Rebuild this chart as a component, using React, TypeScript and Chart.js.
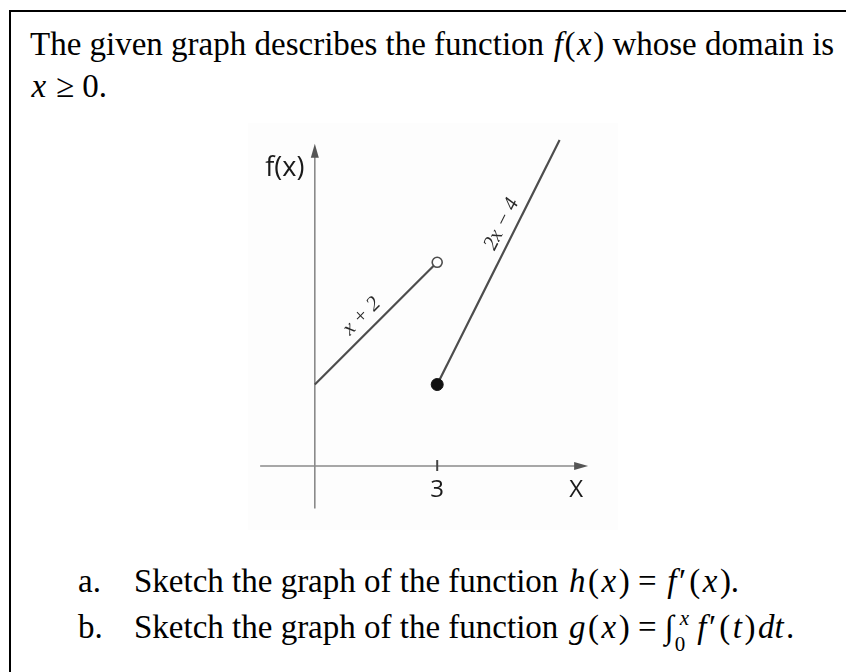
import React, { useEffect, useRef } from "react";
import { Chart, registerables } from "chart.js";

Chart.register(...registerables);

// ---- data ----
const seg1X = [0, 3];
const seg1Y = [2, 5];
const seg2X = [3, 6];
const seg2Y = [2, 8];
const openPointXY = [3, 5];
const closedPointXY = [3, 2];
const xAxisExtent = [-1.34, 6.7];
const yAxisExtent = [-1.04, 7.91];
const xTickValues = [3];
const xTickLabels = ["3"];
const segmentLabels = ["x + 2", "2x \u2212 4"];
const xRange = [-1.466, 7.26];
const yRange = [-1.398, 8.246];

const LINE = "#4d4d4d";
const AXIS = "#8a8a8a";

function GraphChart() {
  const ref = useRef<HTMLCanvasElement | null>(null);
  useEffect(() => {
    if (!ref.current) return;
    const overlay = {
      id: "overlay",
      afterDatasetsDraw(chart: any) {
        const ctx = chart.ctx as CanvasRenderingContext2D;
        const xs = chart.scales.x;
        const ys = chart.scales.y;
        const px = (v: number) => xs.getPixelForValue(v);
        const py = (v: number) => ys.getPixelForValue(v);
        ctx.save();
        // arrowheads
        ctx.fillStyle = "#555";
        const xt = px(xAxisExtent[1]);
        const y0 = py(0);
        ctx.beginPath();
        ctx.moveTo(xt, y0);
        ctx.lineTo(xt - 14, y0 - 4);
        ctx.lineTo(xt - 14, y0 + 4);
        ctx.closePath();
        ctx.fill();
        const x0 = px(0);
        const yt = py(yAxisExtent[1]);
        ctx.beginPath();
        ctx.moveTo(x0, yt);
        ctx.lineTo(x0 - 4, yt + 14);
        ctx.lineTo(x0 + 4, yt + 14);
        ctx.closePath();
        ctx.fill();
        // ticks
        ctx.strokeStyle = "#444";
        ctx.lineWidth = 2;
        ctx.fillStyle = "#1a1a1a";
        ctx.font = "24px 'Open Sans'";
        ctx.textAlign = "center";
        ctx.textBaseline = "middle";
        xTickValues.forEach((v, i) => {
          const tx = px(v);
          ctx.beginPath();
          ctx.moveTo(tx, y0 - 6);
          ctx.lineTo(tx, y0 + 5);
          ctx.stroke();
          ctx.fillText(xTickLabels[i], tx, y0 + 24);
        });
        // axis titles
        ctx.fillText("X", xt - 12, y0 + 24);
        ctx.font = "27px 'Open Sans'";
        ctx.fillText("f(x)", x0 - 30, yt + 25);
        // segment labels
        const segs = [
          { xs: seg1X, ys: seg1Y, f: 0.47, off: 15, text: segmentLabels[0] },
          { xs: seg2X, ys: seg2Y, f: 0.63, off: 14, text: segmentLabels[1] },
        ];
        ctx.font = "italic 21px 'Liberation Serif'";
        ctx.fillStyle = "#2a2a2a";
        segs.forEach((s) => {
          const ax = px(s.xs[0]), ay = py(s.ys[0]);
          const bx = px(s.xs[1]), by = py(s.ys[1]);
          const ang = Math.atan2(by - ay, bx - ax);
          const cx = ax + (bx - ax) * s.f;
          const cy = ay + (by - ay) * s.f;
          ctx.save();
          ctx.translate(cx, cy);
          ctx.rotate(ang);
          ctx.fillText(s.text, 0, -s.off);
          ctx.restore();
        });
        ctx.restore();
      },
    };
    const chart = new Chart(ref.current, {
      type: "scatter",
      data: {
        datasets: [
          {
            data: [{ x: closedPointXY[0], y: closedPointXY[1] }],
            pointRadius: 6,
            pointBackgroundColor: "#111",
            pointBorderColor: "#111",
            showLine: false,
          },
          {
            data: [{ x: openPointXY[0], y: openPointXY[1] }],
            pointRadius: 5,
            pointBorderWidth: 1.6,
            pointBackgroundColor: "#fff",
            pointBorderColor: "#4d4d4d",
            showLine: false,
          },
          {
            data: seg1X.map((x, i) => ({ x, y: seg1Y[i] })),
            showLine: true,
            borderColor: LINE,
            borderWidth: 2.2,
            pointRadius: 0,
          },
          {
            data: seg2X.map((x, i) => ({ x, y: seg2Y[i] })),
            showLine: true,
            borderColor: LINE,
            borderWidth: 2.2,
            pointRadius: 0,
          },
          {
            data: [
              { x: xAxisExtent[0], y: 0 },
              { x: xAxisExtent[1] - 0.25, y: 0 },
            ],
            showLine: true,
            borderColor: AXIS,
            borderWidth: 1.6,
            pointRadius: 0,
          },
          {
            data: [
              { x: 0, y: yAxisExtent[0] },
              { x: 0, y: yAxisExtent[1] - 0.25 },
            ],
            showLine: true,
            borderColor: AXIS,
            borderWidth: 1.6,
            pointRadius: 0,
          },
        ],
      },
      options: {
        animation: false,
        responsive: false,
        maintainAspectRatio: false,
        layout: { padding: 0 },
        plugins: { legend: { display: false }, tooltip: { enabled: false } },
        scales: {
          x: { type: "linear", display: false, min: xRange[0], max: xRange[1] },
          y: { type: "linear", display: false, min: yRange[0], max: yRange[1] },
        },
      },
      plugins: [overlay],
    });
    return () => chart.destroy();
  }, []);
  return <canvas ref={ref} width={370} height={407} style={{ display: "block" }} />;
}

const serif = "'Liberation Serif', 'Times New Roman', serif";
const I = ({ children }: { children: React.ReactNode }) => (
  <span style={{ fontStyle: "italic", padding: "0 1.5px" }}>{children}</span>
);
const M = ({ children }: { children: React.ReactNode }) => (
  <span style={{ fontStyle: "italic", padding: "0 2.5px" }}>{children}</span>
);
const Prime = () => <span style={{ marginRight: 3 }}>′</span>;

export default function App() {
  const line: React.CSSProperties = {
    position: "absolute",
    fontFamily: serif,
    fontSize: 33,
    lineHeight: "36px",
    whiteSpace: "nowrap",
    color: "#000",
  };
  return (
    <div
      style={{
        position: "absolute",
        left: 0,
        top: 0,
        width: 846,
        height: 672,
        background: "#fff",
        overflow: "hidden",
      }}
    >
      <div
        style={{
          position: "absolute",
          left: 9,
          top: 10,
          width: 900,
          height: 700,
          borderTop: "2px solid #000",
          borderLeft: "2px solid #000",
        }}
      />
      <div style={{ ...line, left: 30, top: 25.9 }}>
        The given graph describes the function <I>f</I>(<I>x</I>) whose domain is
      </div>
      <div style={{ ...line, left: 30, top: 67.9 }}>
        <I>x</I> ≥ 0.
      </div>
      <div
        style={{
          position: "absolute",
          left: 248,
          top: 123,
          width: 370,
          height: 407,
          background: "#fdfdfd",
        }}
      >
        <GraphChart />
      </div>
      <div style={{ ...line, left: 78, top: 562.9 }}>
        <span style={{ display: "inline-block", width: 56 }}>a.</span>
        {"Sketch the graph of the function "}
        <M>h</M>(<M>x</M>){" = "}
        <M>f</M>
        <Prime />(<M>x</M>).
      </div>
      <div style={{ ...line, left: 78, top: 608.9 }}>
        <span style={{ display: "inline-block", width: 56 }}>b.</span>
        {"Sketch the graph of the function "}
        <M>g</M>(<M>x</M>){" = "}
        <span style={{ position: "relative", display: "inline-block", width: 30 }}>
          <span style={{ fontStyle: "italic" }}>∫</span>
          <span style={{ position: "absolute", left: 15, top: -9, fontSize: 21, fontStyle: "italic" }}>x</span>
          <span style={{ position: "absolute", left: 10, top: 17, fontSize: 21 }}>0</span>
        </span>
        <M>f</M>
        <Prime />(<M>t</M>)<M>dt</M>.
      </div>
    </div>
  );
}
